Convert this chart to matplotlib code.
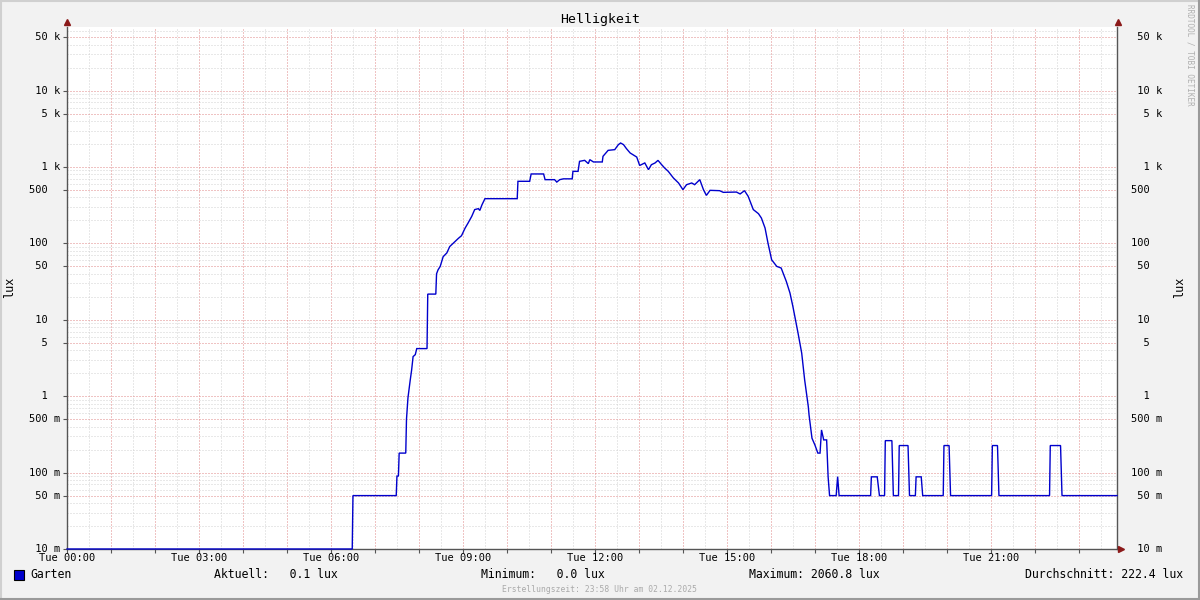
import numpy as np
import matplotlib
matplotlib.use("Agg")
import matplotlib.pyplot as plt
from matplotlib import transforms
from matplotlib.lines import Line2D
from matplotlib.patches import Rectangle
from matplotlib.ticker import FixedLocator, MultipleLocator, NullFormatter

# ---------------- data ----------------
minutes = [0, 389, 390, 449, 450, 452, 453, 462, 463, 465, 468, 470, 472, 475, 477,
           491, 492, 503, 504, 506, 509, 513, 518, 522, 527, 530, 534, 538, 543, 547,
           552, 556, 561, 563, 566, 570, 614, 615, 631, 633, 650, 652, 665, 668, 672,
           677, 689, 690, 697, 699, 706, 711, 713, 718, 730, 731, 738, 747, 752, 755,
           759, 763, 768, 772, 777, 781, 788, 793, 797, 802, 806, 811, 815, 820, 827,
           834, 840, 845, 852, 856, 863, 868, 872, 877, 890, 895, 913, 918, 924, 929,
           936, 943, 947, 952, 956, 961, 968, 974, 981, 986, 990, 997, 1002, 1006, 1011,
           1012, 1016, 1020, 1024, 1027, 1029, 1032, 1036, 1038, 1040, 1049, 1051, 1053,
           1096, 1097, 1105, 1108, 1115, 1116, 1125, 1127, 1134, 1135, 1147, 1149, 1157,
           1158, 1165, 1167, 1195, 1196, 1203, 1205, 1261, 1262, 1269, 1271, 1340, 1341,
           1355, 1357, 1432]
lux = [0, 0, 0.05, 0.05, 0.09, 0.09, 0.18, 0.18, 0.5, 0.95, 1.6, 2.2, 3.3, 3.5, 4.2,
       4.2, 21.7, 21.7, 40, 45, 50, 67, 75, 91, 101, 108, 117, 126, 159, 185,
       226, 277, 285, 270, 321, 385, 385, 650, 650, 811, 811, 683, 683, 635, 683,
       700, 700, 877, 877, 1186, 1222, 1107, 1248, 1164, 1164, 1380, 1652, 1687, 1963, 2060.8,
       1963, 1738, 1527, 1445, 1350, 1047, 1130, 923, 1072, 1130, 1222, 1072, 972, 877, 719,
       618, 505, 587, 618, 587, 683, 505, 425, 495, 490, 466, 470, 444, 490, 413,
       277, 245, 215, 159, 101, 61, 50, 47.6, 31.8, 22.4, 14.9, 6.7, 3.66, 1.64, 0.73,
       0.57, 0.282, 0.23, 0.18, 0.18, 0.362, 0.268, 0.268, 0.0885, 0.05, 0.05, 0.0885, 0.05,
       0.05, 0.088, 0.088, 0.05, 0.05, 0.262, 0.262, 0.05, 0.05, 0.226, 0.226, 0.05, 0.05,
       0.088, 0.088, 0.05, 0.05, 0.226, 0.226, 0.05, 0.05, 0.226, 0.226, 0.05, 0.05, 0.226,
       0.226, 0.05, 0.05]

series_name = "Garten"
title = "Helligkeit"
unit = "lux"
stat_current = "0.1"
stat_minimum = "0.0"
stat_maximum = "2060.8"
stat_average = "222.4"
footer = "Erstellungszeit: 23:58 Uhr am 02.12.2025"
watermark = "RRDTOOL / TOBI OETIKER"

xtick_minutes = [0, 180, 360, 540, 720, 900, 1080, 1260]
xtick_labels = ["Tue 00:00", "Tue 03:00", "Tue 06:00", "Tue 09:00",
                "Tue 12:00", "Tue 15:00", "Tue 18:00", "Tue 21:00"]
ytick_values = [0.01, 0.05, 0.1, 0.5, 1, 5, 10, 50, 100, 500, 1000, 5000, 10000, 50000]
ytick_labels = ["10 m", "50 m", "100 m", "500 m", "1", "5", "10", "50", "100", "500",
                "1 k", "5 k", "10 k", "50 k"]

x_max = 1432
y_min, y_max = 0.01, 68000

# ---------------- style ----------------
MONO = "DejaVu Sans Mono"
BG = "#f2f2f2"
LINE = "#0000cc"
MAJ = "#e08888"
MIN = "#d2d2d2"
AXC = "#555555"
ARROW = "#8b1a1a"

W, H = 1200, 600
fig = plt.figure(figsize=(12, 6), dpi=100, facecolor=BG)


def fx(px):
    return px / W


def fy(py):
    return 1 - py / H


ax = fig.add_axes([fx(67), 51 / H, 1050 / W, 522 / H])
ax.set_facecolor("white")
ax.set_yscale("log")
ax.set_xlim(0, x_max)
ax.set_ylim(y_min, y_max)

# grid
ax.xaxis.set_major_locator(MultipleLocator(60))
ax.xaxis.set_minor_locator(MultipleLocator(30))
ax.yaxis.set_major_locator(FixedLocator(ytick_values))
minor_vals = [m * 10.0 ** e for e in range(-2, 5) for m in (2, 3, 4, 6, 7, 8, 9)]
ax.yaxis.set_minor_locator(FixedLocator(minor_vals))
for axis in (ax.xaxis, ax.yaxis):
    axis.set_major_formatter(NullFormatter())
    axis.set_minor_formatter(NullFormatter())
ax.grid(which="minor", color=MIN, linestyle=(0, (1, 2)), linewidth=0.72)
ax.grid(which="major", color=MAJ, linestyle=(0, (1, 2)), linewidth=0.72)
ax.set_axisbelow(True)
ax.tick_params(which="minor", length=0)
ax.tick_params(axis="y", which="major", length=3, width=0.8, color=AXC,
               left=True, right=False, direction="out")
ax.tick_params(axis="x", which="major", length=3, width=0.8, color=AXC, direction="out")

for s in ("left", "right", "bottom"):
    ax.spines[s].set_color(AXC)
    ax.spines[s].set_linewidth(1.0)
ax.spines["top"].set_visible(False)

# data line
vals = np.maximum(np.array(lux, dtype=float), y_min)
ax.plot(minutes, vals, color=LINE, linewidth=1.0, clip_on=False, zorder=5,
        solid_joinstyle="miter")

# arrows
ax.plot([0], [1 + 5 / 522], marker="^", ms=4.5, color=ARROW, transform=ax.transAxes,
        clip_on=False, zorder=6)
ax.plot([1 + 1 / 1050], [1 + 5 / 522], marker="^", ms=4.5, color=ARROW,
        transform=ax.transAxes, clip_on=False, zorder=6)
ax.plot([1 + 4 / 1050], [0], marker=">", ms=4.5, color=ARROW, transform=ax.transAxes,
        clip_on=False, zorder=6)

# tick labels
tx = transforms.blended_transform_factory(ax.transData, fig.transFigure)
for m, lab in zip(xtick_minutes, xtick_labels):
    fig.text(0, 0, lab, transform=tx, fontsize=7.5, family=MONO, ha="center",
             va="center").set_position((m, fy(558)))

ty = transforms.blended_transform_factory(fig.transFigure, ax.transData)
for v, lab in zip(ytick_values, ytick_labels):
    parts = lab.split(" ")
    num = parts[0]
    suf = parts[1] if len(parts) > 1 else " "
    s = f"{num:>3} {suf}"
    fig.text(fx(29), v, s, transform=ty, fontsize=7.5, family=MONO, ha="left", va="center")
    fig.text(fx(1131), v, s, transform=ty, fontsize=7.5, family=MONO, ha="left", va="center")

# title & labels
fig.text(fx(600), fy(19), title, ha="center", va="center", fontsize=9.5, family=MONO)
fig.text(fx(10), fy(287), unit, rotation=90, ha="center", va="center", fontsize=8.5,
         family=MONO)
fig.text(fx(1180), fy(287), unit, rotation=90, ha="center", va="center", fontsize=8.5,
         family=MONO)
fig.text(fx(1190), fy(4), watermark, rotation=270, ha="center", va="top", fontsize=5.5,
         family=MONO, color="#b0b0b0")

# legend
fig.add_artist(Rectangle((fx(14), fy(580)), 10 / W, 10 / H, transform=fig.transFigure,
                         facecolor=LINE, edgecolor="black", linewidth=0.8))
ly = fy(575)
fig.text(fx(30), ly, series_name, ha="left", va="center", fontsize=8.3, family=MONO)
fig.text(fx(214), ly, f"Aktuell:   {stat_current} {unit}", ha="left", va="center",
         fontsize=8.3, family=MONO)
fig.text(fx(481), ly, f"Minimum:   {stat_minimum} {unit}", ha="left", va="center",
         fontsize=8.3, family=MONO)
fig.text(fx(749), ly, f"Maximum: {stat_maximum} {unit}", ha="left", va="center",
         fontsize=8.3, family=MONO)
fig.text(fx(1183), ly, f"Durchschnitt: {stat_average} {unit}", ha="right", va="center",
         fontsize=8.3, family=MONO)
fig.text(fx(600), fy(589), footer, ha="center", va="center", fontsize=5.8, family=MONO,
         color="#aaaaaa")

# outer border
fig.add_artist(Line2D([0, 1], [1 - 0.75 / H] * 2, transform=fig.transFigure,
                      color="#d0d0d0", lw=1.5))
fig.add_artist(Line2D([0.75 / W] * 2, [0, 1], transform=fig.transFigure,
                      color="#d0d0d0", lw=1.5))
fig.add_artist(Line2D([0, 1], [0.75 / H] * 2, transform=fig.transFigure,
                      color="#9a9a9a", lw=1.5))
fig.add_artist(Line2D([1 - 0.75 / W] * 2, [0, 1], transform=fig.transFigure,
                      color="#9a9a9a", lw=1.5))

fig.savefig("out.png", dpi=100, facecolor=BG)
